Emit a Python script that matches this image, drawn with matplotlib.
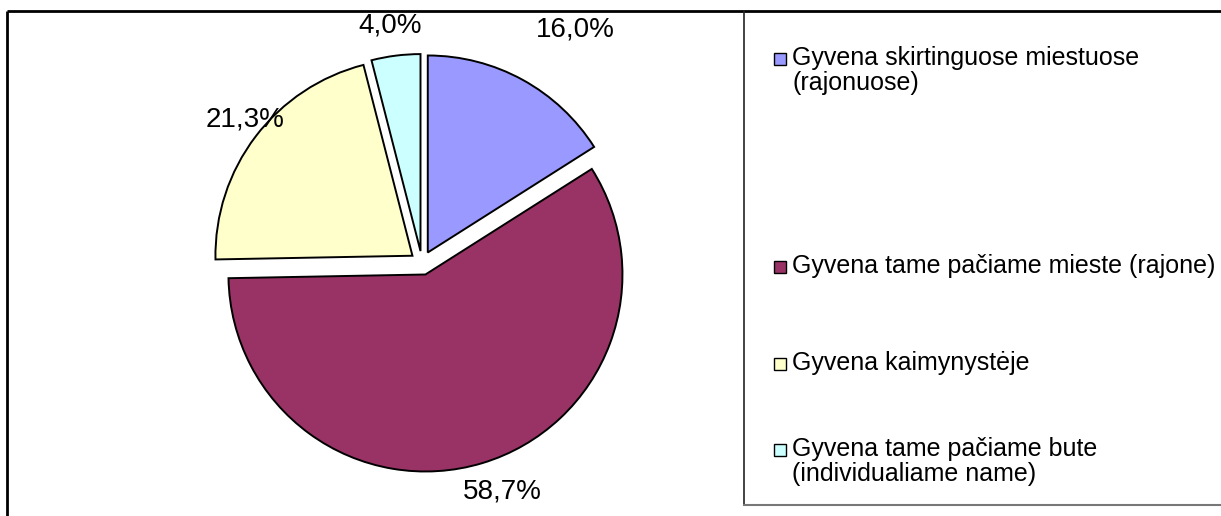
import matplotlib
matplotlib.use("Agg")
import matplotlib.pyplot as plt
from matplotlib.patches import Rectangle
from matplotlib.lines import Line2D

# ---- data ----
categories = [
    "Gyvena skirtinguose miestuose\n(rajonuose)",
    "Gyvena tame pačiame mieste (rajone)",
    "Gyvena kaimynystėje",
    "Gyvena tame pačiame bute\n(individualiame name)",
]
values = [16.0, 58.7, 21.3, 4.0]
colors = ["#9999FF", "#993366", "#FFFFCC", "#CCFFFF"]

plt.rcParams['font.family'] = ['Liberation Sans', 'DejaVu Sans']

W, H = 1221, 516
fig = plt.figure(figsize=(W / 100, H / 100), dpi=100)
ax = fig.add_axes([0, 0, 1, 1])

def Y(y):
    return H - y

cx, cy, R = 422, Y(263), 197
explode = [12] * len(values)   # offset in data (pixel) units

wedges, texts, autotexts = ax.pie(
    values, colors=colors, explode=explode, startangle=90, counterclock=False,
    center=(cx, cy), radius=R, frame=True,
    wedgeprops=dict(edgecolor='black', linewidth=1.4),
    autopct=lambda p: f"{p:.1f}".replace('.', ',') + '%',
    textprops=dict(fontsize=20, color='black'),
)
ax.set_xlim(0, W)
ax.set_ylim(0, H)
ax.set_aspect('equal')
ax.axis('off')

label_pos = [(575, 30), (502, 492), (245, 120), (390, 25)]
for t, (x, y) in zip(autotexts, label_pos):
    t.set_position((x, Y(y)))
    t.set_ha('center')
    t.set_va('center')

# outer frame
ax.add_line(Line2D([7, W], [Y(11), Y(11)], color='black', lw=2, solid_capstyle='butt'))
ax.add_line(Line2D([7, 7], [Y(11), 0], color='black', lw=2, solid_capstyle='butt'))

# legend box
ax.add_line(Line2D([744, 744], [Y(11), Y(505)], color='#222222', lw=1.2))
ax.add_line(Line2D([744, W], [Y(505), Y(505)], color='#777777', lw=1.5))

legend_baseline = [65, 273, 370, 456]
for lab, col, y in zip(categories, colors, legend_baseline):
    ax.add_patch(Rectangle((774, Y(y)), 12, 12, facecolor=col,
                           edgecolor='black', lw=1.0))
    ax.text(792, Y(y), lab.split('\n')[0], fontsize=18, ha='left', va='baseline')
    if '\n' in lab:
        ax.text(792, Y(y + 25), lab.split('\n')[1], fontsize=18, ha='left', va='baseline')

fig.savefig("out.png", dpi=100)
